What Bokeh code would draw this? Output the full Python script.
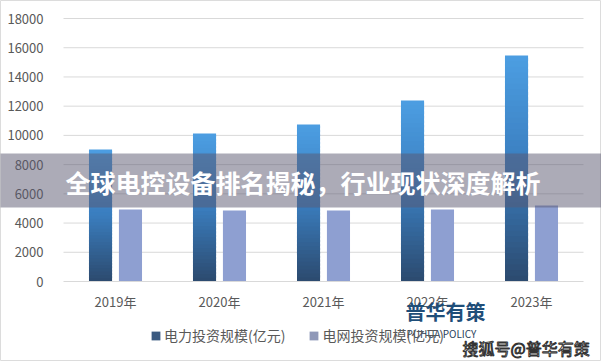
from bokeh.plotting import figure
from bokeh.models import (Range1d, ColumnDataSource, BoxAnnotation, Label,
                          Legend, LegendItem, FixedTicker)
from bokeh.embed import file_html
from bokeh.resources import INLINE

# ---- data ----
years = ["2019年", "2020年", "2021年", "2022年", "2023年"]
power_invest = [9030, 10130, 10750, 12390, 15470]   # 电力投资规模(亿元)
grid_invest = [4930, 4860, 4860, 4930, 5200]        # 电网投资规模(亿元)
series_names = ["电力投资规模(亿元)", "电网投资规模(亿元)"]
y_ticks = [0, 2000, 4000, 6000, 8000, 10000, 12000, 14000, 16000, 18000]
title_text = "全球电控设备排名揭秘，行业现状深度解析"
logo_text = "普华有策"
logo_sub = "PUHUA POLICY"
source_text = "搜狐号@普华有策"

FONT = "Noto Sans CJK SC"
W, H = 601, 361
xpos = list(range(len(years)))
y_top = y_ticks[-1]

# frame fills the whole canvas; plot area spans 520 x 263 px inside it
px_x = len(years) / 520.0
px_y = y_top / 263.0
x_lo = -0.5 - 63 * px_x
x_hi = len(years) - 0.5 + 18 * px_x
y_lo = 0 - 80 * px_y
y_hi = y_top + 18 * px_y

p = figure(x_range=Range1d(x_lo, x_hi), y_range=Range1d(y_lo, y_hi),
           width=W, height=H, output_backend="svg", toolbar_location=None,
           min_border=0)
p.outline_line_color = "#dcdcdc"
p.background_fill_color = "white"
p.border_fill_color = "white"
p.xgrid.grid_line_color = None
p.ygrid.grid_line_color = None

# axes (fixed inside the frame)
p.yaxis.fixed_location = -0.5
p.yaxis.bounds = (0, y_top)
p.yaxis.ticker = FixedTicker(ticks=y_ticks)
p.yaxis.axis_line_color = None
p.yaxis.major_tick_line_color = None
p.yaxis.minor_tick_line_color = None
p.yaxis.major_label_standoff = 14
p.yaxis.major_label_text_font = FONT
p.yaxis.major_label_text_font_size = "13px"
p.yaxis.major_label_text_color = "#595959"

p.xaxis.fixed_location = 0
p.xaxis.bounds = (-0.5, len(years) - 0.5)
p.xaxis.ticker = FixedTicker(ticks=xpos)
p.xaxis.major_label_overrides = {i: yr for i, yr in zip(xpos, years)}
p.xaxis.axis_line_color = "#d9d9d9"
p.xaxis.major_tick_line_color = None
p.xaxis.minor_tick_line_color = None
p.xaxis.major_label_standoff = 4
p.xaxis.major_label_text_font = FONT
p.xaxis.major_label_text_font_size = "13px"
p.xaxis.major_label_text_color = "#595959"

# horizontal grid lines over the plot area
grid_src = ColumnDataSource(dict(x0=[-0.5] * (len(y_ticks) - 1),
                                 x1=[len(years) - 0.5] * (len(y_ticks) - 1),
                                 y=y_ticks[1:]))
p.segment(x0="x0", x1="x1", y0="y", y1="y", line_color="#d9d9d9", line_width=1,
          source=grid_src)

# ---- blue gradient bars built from slices of each value ----
N = 40
stops = [(0.0, (44, 74, 110)), (0.5, (58, 125, 190)), (1.0, (76, 158, 226))]


def grad(t):
    for (t0, c0), (t1, c1) in zip(stops[:-1], stops[1:]):
        if t <= t1:
            f = (t - t0) / (t1 - t0)
            return "#%02x%02x%02x" % tuple(int(round(a + (b - a) * f)) for a, b in zip(c0, c1))
    return "#%02x%02x%02x" % stops[-1][1]


off = 0.144
bw = 0.222
xs, bots, tops, cols = [], [], [], []
for i, v in zip(xpos, power_invest):
    for k in range(N):
        xs.append(i - off)
        bots.append(v * k / N)
        tops.append(min(v, v * (k + 1.6) / N))
        cols.append(grad((k + 0.5) / N))
src_power = ColumnDataSource(dict(x=xs, bottom=bots, top=tops, color=cols))
p.vbar(x="x", bottom="bottom", top="top", width=bw,
       fill_color="color", line_color=None, source=src_power)

src_grid = ColumnDataSource(dict(x=[i + off for i in xpos], top=grid_invest))
p.vbar(x="x", top="top", width=bw, fill_color="#8e9fd1", line_color=None, source=src_grid)

# legend proxies (kept outside the visible range)
r1 = p.vbar(x=[x_lo - 5], top=[0], width=0.2, fill_color="#3b5a80", line_color=None)
r2 = p.vbar(x=[x_lo - 5], top=[0], width=0.2, fill_color="#8f98b8", line_color=None)
legend = Legend(items=[LegendItem(label=series_names[0], renderers=[r1]),
                       LegendItem(label=series_names[1], renderers=[r2])],
                location=(150, 16), orientation="horizontal",
                glyph_width=11, glyph_height=11, label_standoff=3, spacing=23,
                padding=0, margin=0, border_line_color=None, background_fill_alpha=0,
                label_text_font=FONT, label_text_font_size="14px",
                label_text_color="#595959")
p.add_layout(legend)

# ---- banner with title ----
banner = BoxAnnotation(left=-10, right=W + 10, bottom=154, top=208,
                       left_units="screen", right_units="screen",
                       bottom_units="screen", top_units="screen",
                       fill_color="#5a5870", fill_alpha=0.5, line_color=None)
p.add_layout(banner)
p.add_layout(Label(x=65, y=180, x_units="screen", y_units="screen", text=title_text,
                   text_font=FONT, text_font_size="25px", text_font_style="bold",
                   text_color="white", text_baseline="middle", text_align="left"))

# ---- watermarks ----
p.add_layout(Label(x=405, y=50, x_units="screen", y_units="screen", text=logo_text,
                   text_font=FONT, text_font_size="20px", text_font_style="bold",
                   text_color="#1f4e79", text_baseline="middle", text_align="left"))
p.add_layout(Label(x=406, y=28, x_units="screen", y_units="screen", text=logo_sub,
                   text_font=FONT, text_font_size="10px",
                   text_color="#2a3f5c", text_baseline="middle", text_align="left"))
p.add_layout(Label(x=462, y=14, x_units="screen", y_units="screen", text=source_text,
                   text_font=FONT, text_font_size="16px", text_color="white",
                   text_outline_color="#333333",
                   text_baseline="middle", text_align="left"))

open("out.html", "w").write(file_html(p, INLINE))
